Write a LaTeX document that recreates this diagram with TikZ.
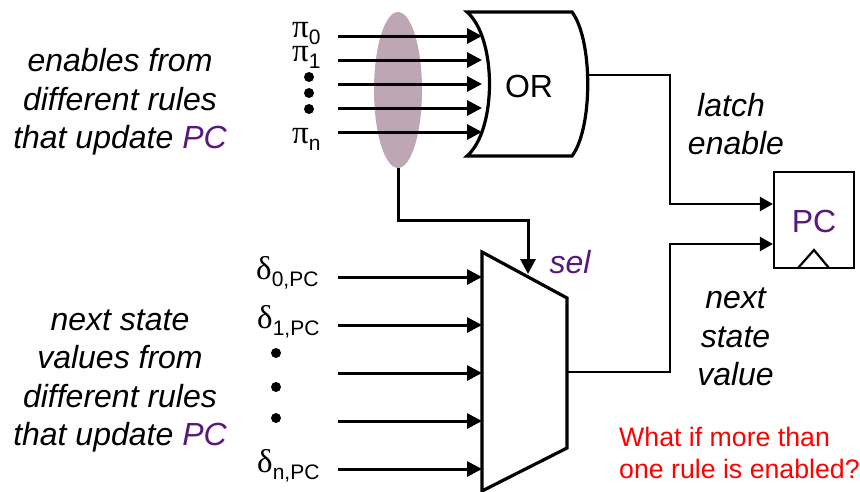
\documentclass[tikz,border=0pt]{standalone}
\usepackage{fontspec}
\setmainfont{Liberation Sans}
\newfontfamily\symfont{Liberation Serif}
\usetikzlibrary{arrows.meta,shapes.geometric}
\definecolor{rulepurple}{RGB}{88,24,124}
\definecolor{enablemauve}{RGB}{191,166,181}
\tikzset{
  wire/.style={line width=3pt, -{Triangle[length=15pt,width=15pt]}},
  thinwire/.style={line width=2.2pt, -{Triangle[length=13pt,width=14pt]}},
  gate/.style={line width=3.2pt, line join=miter},
  note/.style={font=\fontsize{32}{38.5}\selectfont\itshape, align=center},
  greek/.style={font=\fontsize{33}{33}\symfont},
  blob/.style={circle, fill=black, inner sep=0pt, minimum size=10pt},
}
\newcommand{\subs}[1]{\raisebox{-7pt}{\fontsize{21}{21}\selectfont\normalfont #1}}
\begin{document}
\begin{tikzpicture}[x=1pt, y=-1pt]
    \useasboundingbox (0,0) rectangle (860,491);

    % coordinates to be reused
    \coordinate (G1) at (467,12);
    \coordinate (G2) at (572,12);
    \coordinate (G3) at (572,156);
    \coordinate (G4) at (467,156);
    \coordinate (M1) at (482,252);
    \coordinate (M2) at (567,298);
    \coordinate (M3) at (567,448);
    \coordinate (M4) at (482,491);
    \coordinate (a0) at (338,36);
    \coordinate (a1) at (338,60);
    \coordinate (a2) at (338,84);
    \coordinate (a3) at (338,108);
    \coordinate (a4) at (338,132);
    \coordinate (b0) at (338,277);
    \coordinate (b1) at (338,325);
    \coordinate (b2) at (338,373);
    \coordinate (b3) at (338,421);
    \coordinate (b4) at (338,469);

    % enable bundle
    \node [ellipse, fill=enablemauve, minimum width=48pt, minimum height=156pt, inner sep=0pt] (bundle) at (398,90) {};

    % draw figure
    \draw [gate] (G1) -- (G2) .. controls (593,40) and (593,128) .. (G3) -- (G4)
      .. controls (497,130) and (497,38) .. (G1) -- cycle;
    \node [font=\fontsize{32}{32}\selectfont] (orlabel) at (529,86) {OR};
    \draw [gate] (M1) -- (M2) -- (M3) -- (M4) -- cycle;
    \node [draw, line width=2.2pt, minimum width=80pt, minimum height=96pt, inner sep=0pt] (pcbox) at (814,220) {};
    \node [text=rulepurple, font=\fontsize{32}{32}\selectfont] (pclabel) at (814,221) {PC};
    \draw [line width=2.2pt] (798,268) -- (814,250) -- (829,268);

    % wires
    \draw [wire] (a0) -- (a0 -| 482,0);
    \draw [wire] (a1) -- (a1 -| 482,0);
    \draw [wire] (a2) -- (a2 -| 482,0);
    \draw [wire] (a3) -- (a3 -| 482,0);
    \draw [wire] (a4) -- (a4 -| 482,0);
    \draw [wire] (b0) -- (b0 -| M1);
    \draw [wire] (b1) -- (b1 -| M1);
    \draw [wire] (b2) -- (b2 -| M1);
    \draw [wire] (b3) -- (b3 -| M1);
    \draw [wire] (b4) -- (b4 -| M1);
    \draw [wire] (bundle.south) -- (398,220) -- (528,220) -- (528,274);
    \draw [thinwire] (588,75) -- (670,75) -- (670,204) -- (pcbox.west |- 0,204);
    \draw [thinwire] (567,372) -- (670,372) -- (670,244) -- (pcbox.west |- 0,244);

    % add labels
    \node [greek, anchor=base west, inner sep=0pt] (pi0) at (292,37) {π\subs{0}};
    \node [greek, anchor=base west, inner sep=0pt] (pi1) at (292,61) {π\subs{1}};
    \node [greek, anchor=base west, inner sep=0pt] (pin) at (292,143) {π\subs{n}};
    \node [blob] (dot1) at (309,77) {};
    \node [blob] (dot2) at (309,93) {};
    \node [blob] (dot3) at (309,109) {};
    \node [greek, anchor=base west, inner sep=0pt] (d0) at (256,279) {δ\subs{0,PC}};
    \node [greek, anchor=base west, inner sep=0pt] (d1) at (257,328) {δ\subs{1,PC}};
    \node [greek, anchor=base west, inner sep=0pt] (dn) at (257,472) {δ\subs{n,PC}};
    \node [blob] (dot4) at (276,353) {};
    \node [blob] (dot5) at (276,387) {};
    \node [blob] (dot6) at (276,418) {};
    \node [note] (enables) at (120,102) {enables from\\different rules\\that update {\color{rulepurple}PC}};
    \node [note] (values) at (120,381) {next state\\values from\\different rules\\that update {\color{rulepurple}PC}};
    \node [note] (latch) at (736,124) {latch\hspace*{10pt}\\enable};
    \node [note] (nextstate) at (735.5,337) {next\\state\\value};
    \node [note, text=rulepurple] (sel) at (570,262) {sel};
    \node [text=red, align=left, anchor=west, inner sep=0pt, font=\fontsize{26.7}{32}\selectfont] (question) at (619,453) {What if more than\\one rule is enabled?};
\end{tikzpicture}
\end{document}
